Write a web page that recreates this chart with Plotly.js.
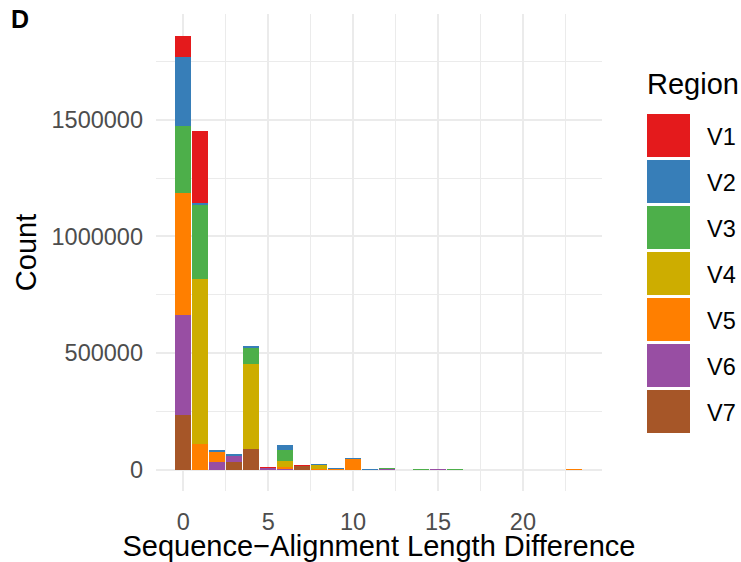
<!DOCTYPE html>
<html>
<head>
<meta charset="utf-8">
<script src="https://cdn.plot.ly/plotly-3.0.1.min.js"></script>
<style>
  html, body { margin: 0; padding: 0; background: #ffffff; }
  #chart { width: 741px; height: 562px; }
</style>
</head>
<body>
<div id="chart"></div>
<script>
// Length difference bins (sequence length minus alignment length)
const diffs = [0, 1, 2, 3, 4, 5, 6, 7, 8, 9, 10, 11, 12, 13, 14, 15, 16, 17, 18, 19, 20, 21, 22, 23];

const regions = ["V1", "V2", "V3", "V4", "V5", "V6", "V7"];
const regionColors = ["#E41A1C", "#377EB8", "#4DAF4A", "#CDAD00", "#FF7F00", "#984EA3", "#A65628"];

// Counts per bin for each hypervariable region
const countsV1 = [87000, 308000, 0, 0, 0, 3000, 0, 3000, 0, 0, 0, 0, 0, 0, 0, 0, 0, 0, 0, 0, 0, 0, 0, 0];
const countsV2 = [296000, 10000, 5600, 5000, 6000, 0, 21400, 0, 4000, 3000, 4000, 3000, 0, 0, 0, 0, 0, 0, 0, 0, 0, 0, 0, 0];
const countsV3 = [287000, 317000, 0, 0, 71000, 0, 47000, 0, 0, 0, 0, 0, 3000, 0, 1500, 0, 1500, 0, 0, 0, 0, 0, 0, 0];
const countsV4 = [0, 708000, 0, 0, 364000, 0, 25700, 0, 15000, 0, 0, 0, 0, 0, 0, 0, 0, 0, 0, 0, 0, 0, 0, 0];
const countsV5 = [527000, 108000, 46000, 0, 0, 0, 8500, 0, 3500, 4000, 44000, 0, 0, 0, 0, 0, 0, 0, 0, 0, 0, 0, 0, 1500];
const countsV6 = [428000, 0, 31000, 25700, 0, 6000, 4000, 0, 0, 0, 0, 0, 2000, 0, 0, 1500, 0, 0, 0, 0, 0, 0, 0, 0];
const countsV7 = [233000, 0, 0, 34000, 87000, 0, 0, 15000, 0, 0, 0, 0, 0, 0, 0, 0, 0, 0, 0, 0, 0, 0, 0, 0];

const regionCounts = [countsV1, countsV2, countsV3, countsV4, countsV5, countsV6, countsV7];

// Stack V7 at the bottom and V1 on top
const traces = [];
for (let i = regions.length - 1; i >= 0; i--) {
  traces.push({
    type: "bar",
    name: regions[i],
    x: diffs,
    y: regionCounts[i],
    marker: { color: regionColors[i], line: { width: 0 } },
    showlegend: false,
    hoverinfo: "x+y+name"
  });
}

// Plot panel in pixels
const W = 741, H = 562;
const panel = { left: 156, right: 602, top: 14, bottom: 491 };
const pw = panel.right - panel.left, ph = panel.bottom - panel.top;
const px = v => (v - panel.left) / pw;
const py = v => (panel.bottom - v) / ph;

const FONT = "Liberation Sans, Arial, Helvetica, sans-serif";

// Legend drawn as square keys with labels
const shapes = [];
const annotations = [];
const keyLeft = 647, keySize = 43, keyTop = 114, keyStep = 46;
regions.forEach((r, i) => {
  const t = keyTop + keyStep * i;
  shapes.push({
    type: "rect", xref: "paper", yref: "paper",
    x0: px(keyLeft), x1: px(keyLeft + keySize),
    y0: py(t + keySize), y1: py(t),
    fillcolor: regionColors[i], line: { width: 0 }
  });
  annotations.push({
    xref: "paper", yref: "paper",
    x: px(705), y: py(t + keySize / 2 + 1),
    xanchor: "left", yanchor: "middle",
    text: r, showarrow: false,
    font: { family: FONT, size: 23.5, color: "#000000" }
  });
});
annotations.push({
  xref: "paper", yref: "paper",
  x: px(645), y: py(84),
  xanchor: "left", yanchor: "middle",
  text: "Region", showarrow: false,
  font: { family: FONT, size: 29, color: "#000000" }
});
annotations.push({
  xref: "paper", yref: "paper",
  x: px(9), y: py(19),
  xanchor: "left", yanchor: "middle",
  text: "<b>D</b>", showarrow: false,
  font: { family: FONT, size: 25, color: "#000000" }
});

const layout = {
  width: W, height: H,
  margin: { l: panel.left, r: W - panel.right, t: panel.top, b: H - panel.bottom, pad: 0 },
  paper_bgcolor: "#ffffff",
  plot_bgcolor: "#ffffff",
  barmode: "stack",
  bargap: 0.06,
  font: { family: FONT },
  xaxis: {
    range: [-1.61, 24.66],
    tick0: 0, dtick: 5,
    showgrid: true, gridcolor: "#EBEBEB", gridwidth: 1.9,
    minor: { tick0: 0, dtick: 2.5, showgrid: true, gridcolor: "#EBEBEB", gridwidth: 1 },
    zeroline: false, showline: false, ticks: "",
    ticklabelstandoff: 14,
    tickfont: { family: FONT, size: 23.5, color: "#4D4D4D" },
    title: { text: "Sequence\u2212Alignment Length Difference", standoff: 13,
             font: { family: FONT, size: 29, color: "#000000" } },
    automargin: false, fixedrange: true
  },
  yaxis: {
    range: [-91900, 1953600],
    tick0: 0, dtick: 500000,
    tickformat: "d",
    showgrid: true, gridcolor: "#EBEBEB", gridwidth: 1.9,
    minor: { tick0: 0, dtick: 250000, showgrid: true, gridcolor: "#EBEBEB", gridwidth: 1 },
    zeroline: false, showline: false, ticks: "",
    ticklabelstandoff: 12,
    tickfont: { family: FONT, size: 23.5, color: "#4D4D4D" },
    title: { text: "Count", standoff: 6,
             font: { family: FONT, size: 29, color: "#000000" } },
    automargin: false, fixedrange: true
  },
  shapes: shapes,
  annotations: annotations,
  showlegend: false
};

Plotly.newPlot("chart", traces, layout, { displayModeBar: false, staticPlot: true });
</script>
</body>
</html>
